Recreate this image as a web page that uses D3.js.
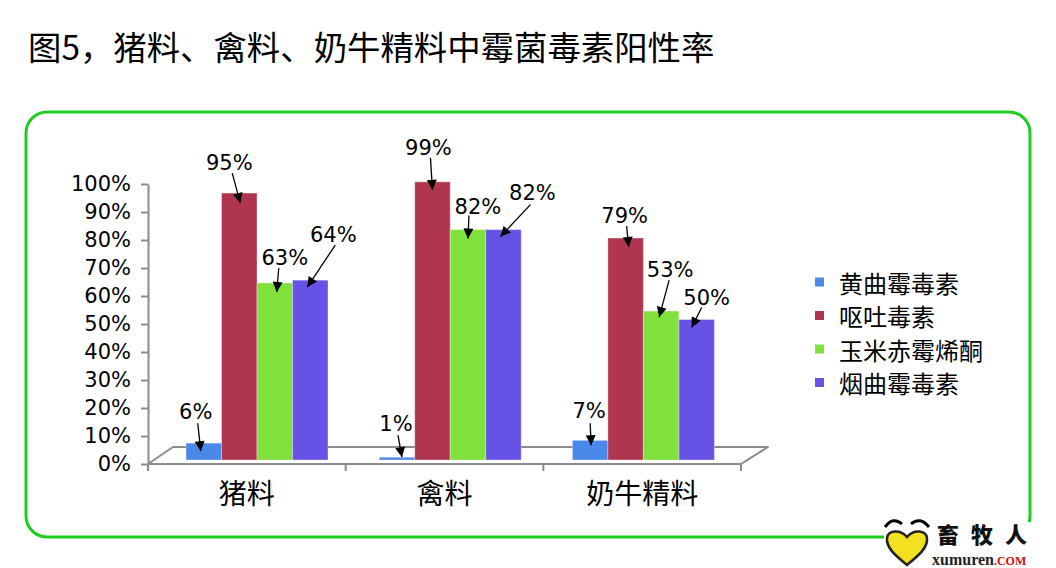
<!DOCTYPE html>
<html><head><meta charset="utf-8">
<script src="https://cdn.jsdelivr.net/npm/d3@7"></script>
<style>html,body{margin:0;padding:0;background:#fff;} svg{display:block}</style>
</head><body>
<svg id="c" width="1056" height="568"></svg>
<script>
// ---------- data ----------
const titleText = "图5，猪料、禽料、奶牛精料中霉菌毒素阳性率";
const categories = ["猪料", "禽料", "奶牛精料"];
const seriesNames = ["黄曲霉毒素", "呕吐毒素", "玉米赤霉烯酮", "烟曲霉毒素"];
const aflatoxin = [6, 1, 7];
const vomitoxin = [95, 99, 79];
const zearalenone = [63, 82, 53];
const fumonisin = [64, 82, 50];
const yTicks = [0, 10, 20, 30, 40, 50, 60, 70, 80, 90, 100];
const seriesColors = ["#4a88ea", "#b0354f", "#80e03c", "#6653e6"];
// annotation layout: [textDx, textDy, startDx, startDy, tipDx, tipDy] relative to bar top-centre
const annotLayout = [
  [[-8,-31,-6,-20,-3,8], [-10,-30,-7,-20,1,10], [10,-25,4,-15,2,9], [23,-45,25,-35,-3,7]],
  [[-1,-33,1,-22,5,0], [-4,-34,-2,-24,0,8], [10,-23,1,-14,0,9], [29,-37,27,-25,-3,7]],
  [[-1,-29,0,-17,1,5], [-1,-22,1,-12,3,9], [9,-41,8,-31,-2,6], [10,-22,5,-12,-5,8]]
];

const seriesValues = [aflatoxin, vomitoxin, zearalenone, fumonisin];
const rows = [];
categories.forEach((c, ci) => seriesNames.forEach((s, si) => rows.push({c, ci, s, si, v: seriesValues[si][ci]})));

const svg = d3.select("#c");
const CJK = "'Noto Sans CJK SC','Noto Sans',sans-serif";
const LAT = "'DejaVu Sans',Verdana,sans-serif";

// frame
svg.append("rect").attr("x", 26).attr("y", 112).attr("width", 1004).attr("height", 425)
  .attr("rx", 21).attr("fill", "none").attr("stroke", "#1ccf1c").attr("stroke-width", 3);

// title
svg.append("text").attr("x", 28).attr("y", 60).attr("font-family", CJK).attr("font-size", 33.4)
  .attr("fill", "#000").text(titleText);

// scales
const yAxisScale = d3.scaleLinear().domain([0, 100]).range([464, 184]);
const yBar = d3.scaleLinear().domain([0, 100]).range([460, 179]);
const xCat = d3.scaleBand().domain(categories).range([148, 741]);
const xGroup = d3.scaleBand().domain(categories).range([160.4, 740]);
const groupWidth = 142;
const xSeries = d3.scaleBand().domain(seriesNames).range([0, groupWidth]);
const barX = d => xGroup(d.c) + (xGroup.bandwidth() - groupWidth) / 2 + xSeries(d.s);
const depthX = 25, depthY = -17;
const axisColor = "#8c8c8c";

// floor
const y0 = yAxisScale(0);
const [xl, xr] = xCat.range();
svg.append("path")
  .attr("d", `M${xl},${y0} L${xl + depthX},${y0 + depthY} L${xr + depthX + 2},${y0 + depthY} L${xr},${y0} Z`)
  .attr("fill", "none").attr("stroke", axisColor).attr("stroke-width", 2).attr("stroke-linejoin", "round");

// category ticks
const bounds = categories.map(c => xCat(c)).concat([xr]);
svg.append("g").selectAll("line").data(bounds).join("line")
  .attr("x1", d => d).attr("x2", d => d).attr("y1", y0).attr("y2", y0 + 7)
  .attr("stroke", axisColor).attr("stroke-width", 2);

// category labels
svg.append("g").selectAll("text").data(categories).join("text")
  .attr("x", d => xCat(d) + xCat.bandwidth() / 2).attr("y", 504)
  .attr("text-anchor", "middle").attr("font-family", CJK).attr("font-size", 28).text(d => d);

// y axis
const yAxis = svg.append("g").attr("transform", `translate(${xl},0)`)
  .call(d3.axisLeft(yAxisScale).tickValues(yTicks).tickFormat(d => d + "%").tickSize(7).tickSizeOuter(0).tickPadding(10));
yAxis.select(".domain").attr("stroke", axisColor).attr("stroke-width", 2);
yAxis.selectAll(".tick line").attr("stroke", axisColor).attr("stroke-width", 2);
yAxis.selectAll(".tick text").attr("font-family", LAT).attr("font-size", 21).attr("fill", "#000");

// bars
svg.append("g").selectAll("rect").data(rows).join("rect")
  .attr("x", d => barX(d)).attr("width", xSeries.bandwidth())
  .attr("y", d => yBar(d.v)).attr("height", d => yBar(0) - yBar(d.v))
  .attr("fill", d => seriesColors[d.si])
  .attr("stroke", "rgba(255,255,255,0.35)").attr("stroke-width", 1);

// arrow marker
svg.append("defs").append("marker").attr("id", "ah").attr("markerUnits", "userSpaceOnUse")
  .attr("viewBox", "0 0 10 10").attr("refX", 10).attr("refY", 5)
  .attr("markerWidth", 11).attr("markerHeight", 10).attr("orient", "auto")
  .append("path").attr("d", "M0,0 L10,5 L0,10 Z").attr("fill", "#000");

// annotations
const ann = svg.append("g");
rows.forEach(d => {
  const L = annotLayout[d.ci][d.si];
  const cx = barX(d) + xSeries.bandwidth() / 2, ty = yBar(d.v);
  ann.append("line").attr("x1", cx + L[2]).attr("y1", ty + L[3]).attr("x2", cx + L[4]).attr("y2", ty + L[5])
    .attr("stroke", "#000").attr("stroke-width", 1.3).attr("marker-end", "url(#ah)");
  ann.append("text").attr("x", cx + L[0]).attr("y", ty + L[1]).attr("text-anchor", "middle")
    .attr("dominant-baseline", "central").attr("font-family", LAT).attr("font-size", 21)
    .attr("fill", "#000").text(d.v + "%");
});

// legend
const lg = svg.append("g").selectAll("g").data(seriesNames).join("g")
  .attr("transform", (d, i) => `translate(815,${282 + i * 33.5})`);
lg.append("rect").attr("x", 0).attr("y", -4.5).attr("width", 9).attr("height", 9).attr("fill", (d, i) => seriesColors[i]);
lg.append("text").attr("x", 24).attr("y", 0).attr("dominant-baseline", "central")
  .attr("font-family", CJK).attr("font-size", 24).attr("fill", "#000").text(d => d);

// logo
const logo = svg.append("g");
logo.append("rect").attr("x", 884).attr("y", 522).attr("width", 160).attr("height", 46).attr("fill", "#fff");
logo.append("path").attr("d", "M885,527 Q893,516 902,524").attr("fill", "none").attr("stroke", "#000").attr("stroke-width", 3);
logo.append("path").attr("d", "M911,524 Q920,516 929,527").attr("fill", "none").attr("stroke", "#000").attr("stroke-width", 3);
logo.append("path")
  .attr("d", "M907,565 C896,556 886,548 887,538 C888,530 900,529 907,537 C914,529 926,530 927,538 C928,548 918,556 907,565 Z")
  .attr("fill", "#f3e01e").attr("stroke", "#222").attr("stroke-width", 2.5);
logo.append("text").attr("x", 937).attr("y", 543).attr("font-family", CJK).attr("font-weight", 900)
  .attr("font-size", 22).attr("letter-spacing", 12).attr("fill", "#111").text("畜牧人");
logo.append("text").attr("x", 932).attr("y", 565).attr("font-family", "'Liberation Serif',serif").attr("font-weight", 700)
  .attr("font-size", 16).attr("fill", "#222").text("xumuren")
  .append("tspan").attr("fill", "#d01010").attr("font-size", 12).text(".COM");
</script>
</body></html>
